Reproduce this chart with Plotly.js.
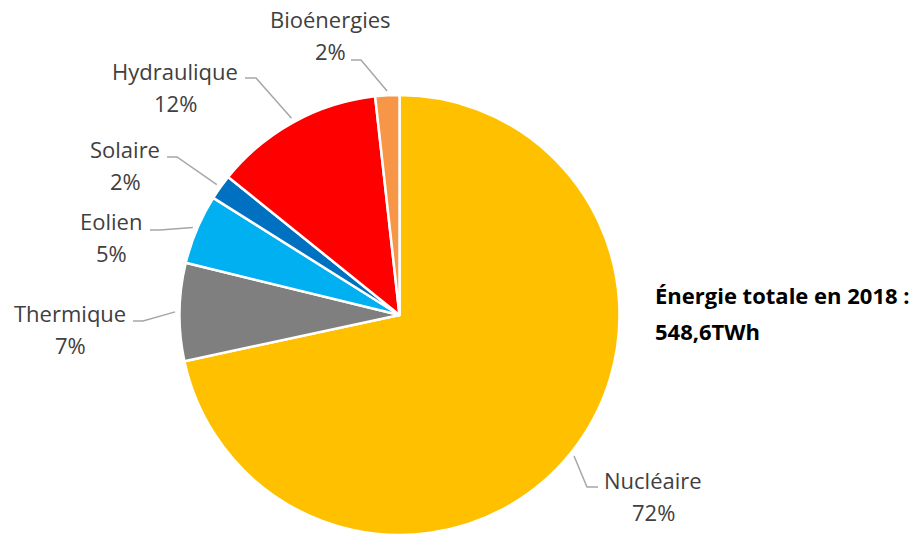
<!DOCTYPE html>
<html><head><meta charset="utf-8">
<script src="https://cdn.plot.ly/plotly-3.0.1.min.js"></script>
<style>html,body{margin:0;padding:0;background:#fff}#chart{width:917px;height:535px}</style>
</head><body><div id="chart"></div>
<script>
// Data
const categories = ["Nucléaire", "Thermique", "Eolien", "Solaire", "Hydraulique", "Bioénergies"];
const valuesTWh = [393.2, 39.4, 28.1, 10.2, 68.3, 9.7];
const colors = ["#FFC000", "#7F7F7F", "#00B0F0", "#0070C0", "#FF0000", "#F79646"];
const totalLabel = ["Énergie totale en 2018 :", "548,6TWh"];

// Layout configuration (pixels)
const W = 917, H = 535;
const cx = 399.5, cy = 315, R = 220;
// label text centre (name line), and leader line horizontal start / elbow
const labelPos = [
  {x: 653, y: 480, hx: 598, ex: 587, hy: 487},
  {x: 70,  y: 313, hx: 133, ex: 143, hy: 321},
  {x: 111, y: 221, hx: 150, ex: 160, hy: 230},
  {x: 125, y: 149, hx: 167, ex: 177, hy: 157},
  {x: 175, y: 71,  hx: 245, ex: 256, hy: 78},
  {x: 330, y: 19,  hx: 351, ex: 361, hy: 60}
];
const px = x => x / W, py = y => 1 - y / H;

const total = valuesTWh.reduce((a, b) => a + b, 0);
const annotations = [], shapes = [];
let cum = 0;
const font = "Open Sans, Noto Sans, sans-serif";
valuesTWh.forEach((v, i) => {
  const frac = v / total;
  const mid = (cum + frac / 2) * 2 * Math.PI;
  cum += frac;
  const ex = cx + R * 1.02 * Math.sin(mid), ey = cy - R * 1.02 * Math.cos(mid);
  const L = labelPos[i];
  annotations.push({xref: "paper", yref: "paper", x: px(L.x), y: py(L.y), text: categories[i],
    showarrow: false, xanchor: "center", yanchor: "middle", font: {family: font, size: 22, color: "#404040"}});
  annotations.push({xref: "paper", yref: "paper", x: px(L.x), y: py(L.y + 32), text: Math.round(frac * 100) + "%",
    showarrow: false, xanchor: "center", yanchor: "middle", font: {family: font, size: 22, color: "#404040"}});
  shapes.push({type: "path", xref: "paper", yref: "paper",
    path: `M ${px(L.hx)} ${py(L.hy)} L ${px(L.ex)} ${py(L.hy)} L ${px(ex)} ${py(ey)}`,
    line: {color: "#A6A6A6", width: 1.5}});
});
annotations.push({xref: "paper", yref: "paper", x: px(653), y: py(295), text: "<b>" + totalLabel[0] + "</b>",
  showarrow: false, xanchor: "left", yanchor: "middle", font: {family: "Open Sans, sans-serif", size: 22, color: "#000"}});
annotations.push({xref: "paper", yref: "paper", x: px(653), y: py(331), text: "<b>" + totalLabel[1] + "</b>",
  showarrow: false, xanchor: "left", yanchor: "middle", font: {family: "Open Sans, sans-serif", size: 22, color: "#000"}});

const hd = R / H;
const trace = {
  type: "pie", labels: categories, values: valuesTWh, sort: false, direction: "clockwise", rotation: 0,
  marker: {colors: colors, line: {color: "#fff", width: 2.5}},
  textinfo: "none", hoverinfo: "label+percent",
  domain: {x: [px(cx - R), px(cx + R)], y: [Math.max(0, py(cy) - hd), py(cy) + hd]}
};
Plotly.newPlot("chart", [trace], {
  width: W, height: H, margin: {l: 0, r: 0, t: 0, b: 0}, showlegend: false,
  paper_bgcolor: "#fff", annotations: annotations, shapes: shapes
}, {displayModeBar: false, staticPlot: true});
</script></body></html>
